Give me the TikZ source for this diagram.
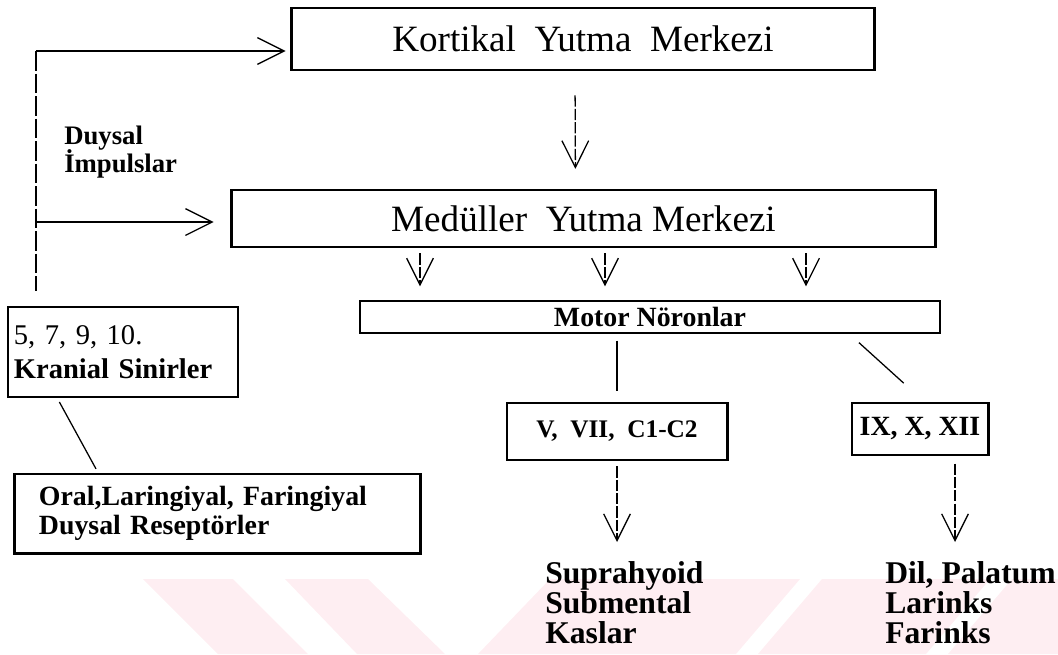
\documentclass[tikz,border=0pt]{standalone}
\usepackage{fontspec}
\setmainfont{Liberation Serif}
\usepackage{tikz}
\usetikzlibrary{arrows.meta,calc}
\definecolor{wmpink}{RGB}{254,238,242}

\begin{document}
\begin{tikzpicture}[x=0.025cm,y=-0.025cm,
  kalin/.style={rectangle, draw, line width=2.1pt, inner sep=0pt},
  ince/.style={rectangle, draw, line width=0.9pt, inner sep=0pt},
  ok/.style={line width=0.9pt, -{Straight Barb[length=19pt,width=19pt]}},
  kesik/.style={dash pattern=on 8pt off 1.5pt}]
\useasboundingbox (0,0) rectangle (1058,654);
\fill[wmpink] (143,579) -- (233,579) -- (308,654) -- (218,654) -- cycle;
\fill[wmpink] (285,579) -- (368,579) -- (445,654) -- (357,654) -- cycle;
\fill[wmpink] (550,579) -- (800,579) -- (736,654) -- (478,654) -- cycle;
\fill[wmpink] (822,579) -- (990,579) -- (926,654) -- (758,654) -- cycle;
\fill[wmpink] (1012,579) -- (1058,579) -- (1058,654) -- (948,654) -- cycle;

\node[kalin, minimum width=14.55cm, minimum height=1.55cm, font=\fontsize{26.4pt}{30pt}\selectfont] (KYM) at (583,39) {Kortikal\ \ Yutma\ \ Merkezi};
\node[kalin, minimum width=17.575cm, minimum height=1.425cm, font=\fontsize{26.4pt}{30pt}\selectfont] (MYM) at (583.5,218.5) {Medüller\ \ Yutma Merkezi};
\node[ince, minimum width=14.5cm, minimum height=0.8cm, font=\bfseries\fontsize{19.8pt}{22pt}\selectfont] (MN) at (650,317) {Motor Nöronlar};
\node[ince, minimum width=5.75cm, minimum height=2.25cm, inner xsep=0.15cm, text width=5.45cm, align=left, font=\fontsize{20.3pt}{24pt}\selectfont] (KS) at (123,352) {5, 7, 9, 10.\\\textbf{Kranial Sinirler}};
\node[kalin, minimum width=10.125cm, minimum height=1.975cm, inner xsep=0.6cm, text width=8.925cm, align=left, font=\bfseries\fontsize{19.8pt}{21pt}\selectfont] (ODR) at (217.5,513.5) {Oral,Laringiyal, Faringiyal\\Duysal Reseptörler};
\node[kalin, minimum width=5.5cm, minimum height=1.425cm, font=\bfseries\fontsize{18pt}{20pt}\selectfont] (V7) at (617,431.5) {V,\ \ VII,\ \ C1-C2};
\node[kalin, minimum width=3.4cm, minimum height=1.3cm, font=\bfseries\fontsize{19.8pt}{22pt}\selectfont] (IX) at (920,429) {IX, X, XII};

\node[anchor=west, inner sep=0pt, align=left, font=\bfseries\fontsize{19pt}{20.5pt}\selectfont] (DI) at (64,152) {Duysal\\İmpulslar};
\node[anchor=west, inner sep=0pt, align=left, font=\bfseries\fontsize{22.5pt}{21.3pt}\selectfont] (SSK) at (545,603) {Suprahyoid\\Submental\\Kaslar};
\node[anchor=west, inner sep=0pt, align=left, font=\bfseries\fontsize{22.5pt}{21.3pt}\selectfont] (DPL) at (885,603) {Dil, Palatum\\Larinks\\Farinks};

\coordinate (C1) at (36,51);
\coordinate (C2) at (36,222);
\coordinate (U) at (0,542);
\coordinate (IXa) at ($(IX.south)+(35,0)$);

\draw[line width=0.9pt, dash pattern=on 14pt off 2pt, shorten >=10.6pt] (C1) -- (C1 |- KS.north);
\draw[ok, shorten >=3.5pt] (C1) -- (C1 -| KYM.west);
\draw[ok, shorten >=12pt] (C2) -- (C2 -| MYM.west);
\draw[ok, kesik, shorten <=17pt, shorten >=14pt] ([xshift=-0.2cm]KYM.south) -- ([xshift=-0.2cm]MYM.north);
\foreach \x in {420,605,806}
  \draw[ok, kesik, shorten <=3.5pt, shorten >=10pt] (MYM.south -| \x,0) -- (MN.north -| \x,0);
\draw[line width=0.9pt, shorten <=5pt, shorten >=7.8pt] (V7.north |- MN.south) -- (V7.north);
\draw[line width=0.9pt, shorten <=9.5pt, shorten >=19.5pt] (MN.south -| 849,0) -- ([xshift=0.1cm]IX.north);
\draw[line width=0.9pt, shorten <=3.5pt, shorten >=3pt] (KS.south -| 57,0) -- (ODR.north -| 98,0);
\draw[ok, kesik, shorten <=3.5pt] (V7.south) -- (V7.south |- U);
\draw[ok, kesik, shorten <=5pt] (IXa) -- (IXa |- U);
\end{tikzpicture}
\end{document}
